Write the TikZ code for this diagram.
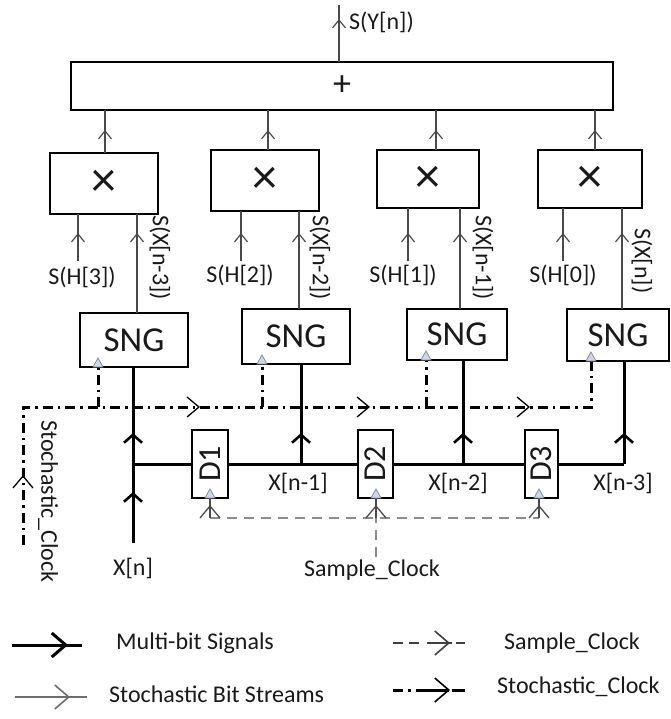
\documentclass[tikz,border=0pt]{standalone}
\usepackage{fontspec}
\setmainfont{Carlito}
\usetikzlibrary{arrows.meta,decorations.markings}

\definecolor{wire}{HTML}{4A4A4A}
\definecolor{clkgray}{HTML}{8C8C8C}
\definecolor{clkfill}{HTML}{C9DAF0}

\tikzset{
  box/.style={draw=black, line width=1.3pt, inner sep=0pt, outer sep=0pt},
  lbl/.style={font=\fontsize{24}{26}\selectfont, inner sep=0pt, text=black!90},
  bitline/.style={draw=wire, line width=1.2pt},
  busline/.style={draw=black, line width=3pt},
  sclk/.style={draw=clkgray, line width=1.8pt, dash pattern=on 10pt off 7pt},
  stclk/.style={draw=black, line width=3pt, dash pattern=on 10pt off 5pt on 2.5pt off 5pt},
  sbarb/.tip={Straight Barb[length=8pt,width=13pt,line width=1.2pt]},
  bbarb/.tip={Straight Barb[length=8pt,width=18pt,line width=2.6pt]},
  cbarb/.tip={Straight Barb[length=12pt,width=20pt,line width=1.3pt]},
  lbarb/.tip={Straight Barb[length=14pt,width=24pt,line width=1.6pt]},
  lbbarb/.tip={Straight Barb[length=14pt,width=24pt,line width=3pt]},
  midbarb/.style 2 args={postaction={decorate, decoration={markings,
      mark=at position #1 with {\arrow{#2}}}}},
  clock/.pic={\draw[clkgray, fill=clkfill, line width=0.8pt]
      (-5,0) -- (5,0) -- (0,-9) -- cycle;},
}

\begin{document}
\begin{tikzpicture}[x=1pt, y=-1pt]
\useasboundingbox (0,0) rectangle (670,719);

% adder
\node[box, minimum width=542pt, minimum height=48pt, lbl, font=\fontsize{36}{36}\selectfont] (add) at (342,86) {+};
\coordinate (yout) at (339,5);
\draw[bitline, midbarb={43pt}{sbarb}] (add.north -| yout) -- (yout);
\node[lbl, anchor=west] (ylab) at (349,22) {S(Y[n])};

% multipliers
\tikzset{mul/.style={box, lbl, font=\fontsize{50}{50}\selectfont}}
\node[mul, minimum width=108pt, minimum height=61pt] (m1) at (104,183.5) {\texttimes};
\node[mul, minimum width=108pt, minimum height=61pt] (m2) at (265,180.5) {\texttimes};
\node[mul, minimum width=102pt, minimum height=58pt] (m3) at (428,179) {\texttimes};
\node[mul, minimum width=104pt, minimum height=58pt] (m4) at (590,179) {\texttimes};

% products into the adder
\foreach \m/\x in {m1/105, m2/268, m3/436, m4/595}{
  \coordinate (p\m) at (\x,0);
  \draw[bitline, midbarb={-20pt}{sbarb}] (\m.north -| p\m) -- (add.south -| p\m);
}

% coefficient inputs
\foreach \m/\x in {m1/78, m2/241, m3/408, m4/563}{
  \coordinate (h\m) at (\x,261);
  \draw[bitline, midbarb={28pt}{sbarb}] (h\m) -- (\m.south -| h\m);
}
\node[lbl] (h3) at (82,277) {S(H[3])};
\node[lbl] (h2) at (240,275) {S(H[2])};
\node[lbl] (h1) at (403,275) {S(H[1])};
\node[lbl] (h0) at (563,275) {S(H[0])};

% SNG blocks
\tikzset{sng/.style={box, lbl, font=\fontsize{35}{36}\selectfont}}
\node[sng, minimum width=108pt, minimum height=54pt] (s1) at (134,340) {SNG};
\node[sng, minimum width=108pt, minimum height=55pt] (s2) at (296,336.5) {SNG};
\node[sng, minimum width=100pt, minimum height=51pt] (s3) at (457,334.5) {SNG};
\node[sng, minimum width=102pt, minimum height=52pt] (s4) at (618,335) {SNG};

% stochastic streams from SNGs to multipliers
\foreach \s/\m/\x/\d in {s1/m1/137/80, s2/m2/299/76, s3/m3/460/76, s4/m4/622/76}{
  \coordinate (x\s) at (\x,0);
  \draw[bitline, midbarb={\d pt}{sbarb}] (\s.north -| x\s) -- (\m.south -| x\s);
}
\node[lbl, rotate=-90, anchor=west] (sx3) at (160,215) {S(X[n-3])};
\node[lbl, rotate=-90, anchor=west] (sx2) at (320,215) {S(X[n-2])};
\node[lbl, rotate=-90, anchor=west] (sx1) at (483,215) {S(X[n-1])};
\node[lbl, rotate=-90, anchor=west] (sx0) at (642,228) {S(X[n])};

% delay line
\tikzset{dly/.style={box, lbl, font=\fontsize{32}{32}\selectfont, minimum height=68pt}}
\node[dly, minimum width=36pt] (d1) at (210,464) {\rotatebox{90}{D1}};
\node[dly, minimum width=35pt] (d2) at (375.5,464) {\rotatebox{90}{D2}};
\node[dly, minimum width=33pt] (d3) at (541.5,464) {\rotatebox{90}{D3}};

\coordinate (xin) at (133,543);
\coordinate (j0) at (133,464);
\coordinate (j1) at (301,464);
\coordinate (j2) at (463,464);
\coordinate (j3) at (624,464);
\draw[busline, midbarb={51pt}{bbarb}, midbarb={110pt}{bbarb}] (xin) -- (s1.south -| xin);
\draw[busline] (j0) -- (d1.west |- j0);
\draw[busline] (d1.east |- j1) -- (d2.west |- j1);
\draw[busline] (d2.east |- j2) -- (d3.west |- j2);
\draw[busline] (d3.east |- j3) -- (j3);
\draw[busline, midbarb={31pt}{bbarb}] (j1) -- (s2.south -| j1);
\draw[busline, midbarb={31pt}{bbarb}] (j2) -- (s3.south -| j2);
\draw[busline, midbarb={31pt}{bbarb}] (j3) -- (s4.south -| j3);

\node[lbl] (xn) at (133,568) {X[n]};
\node[lbl] (xn1) at (298,483) {X[n-1]};
\node[lbl] (xn2) at (458,483) {X[n-2]};
\node[lbl] (xn3) at (623,483) {X[n-3]};

% stochastic clock distribution
\coordinate (sc0) at (23,545);
\coordinate (sc1) at (23,407);
\coordinate (sc2) at (591,407);
\draw[stclk, midbarb={70pt}{cbarb}, midbarb={315pt}{cbarb},
      midbarb={485pt}{cbarb}, midbarb={645pt}{cbarb}]
  (sc0) -- (sc1) -- (sc2) -- (s4.south -| sc2);
\foreach \s/\x in {s1/98, s2/262, s3/426}{
  \coordinate (c\s) at (\x,407);
  \draw[stclk] (c\s) -- (\s.south -| c\s);
}
\node[lbl, rotate=-90, anchor=west] (sclab) at (48,420) {Stochastic\_Clock};

% sample clock distribution
\coordinate (smp) at (376,557);
\coordinate (sa) at (210,518);
\coordinate (sb) at (539,518);
\draw[sclk] (smp) -- (smp |- sa);
\draw[sclk] (sa) -- (sb);
\foreach \d/\x in {d1/210, d2/376, d3/539}{
  \coordinate (k\d) at (\x,518);
  \draw[draw=wire, line width=1.2pt, midbarb={13pt}{cbarb}] (k\d) -- (\d.south -| k\d);
}
\node[lbl] (smplab) at (372,570) {Sample\_Clock};

% clock inputs
\foreach \s/\x in {s1/98, s2/262, s3/426, s4/591}{
  \path (\s.south -| \x,0) pic {clock};
}
\foreach \d/\x in {d1/210, d2/376, d3/539}{
  \path (\d.south -| \x,0) pic {clock};
}

% legend
\coordinate (la0) at (12,645);  \coordinate (la1) at (82,645);
\coordinate (lb0) at (15,697);  \coordinate (lb1) at (87,697);
\coordinate (lc0) at (393,643); \coordinate (lc1) at (465,643);
\coordinate (ld0) at (393,690); \coordinate (ld1) at (465,690);
\draw[busline, midbarb={-14pt}{lbbarb}] (la0) -- (la1);
\draw[bitline, draw=wire!80, line width=1.6pt, midbarb={-17pt}{lbarb}] (lb0) -- (lb1);
\draw[sclk, draw=black!75, line width=1.5pt,
      dash pattern=on 10pt off 6pt on 10pt off 8pt on 25pt off 4pt on 20pt,
      midbarb={-15pt}{lbarb}] (lc0) -- (lc1);
\draw[stclk, dash pattern=on 10pt off 5pt on 2.5pt off 5pt on 33pt off 3pt on 20pt,
      midbarb={-15pt}{lbarb}] (ld0) -- (ld1);
\node[lbl, anchor=west] (lga) at (116,643) {Multi-bit Signals};
\node[lbl, anchor=west] (lgb) at (109,694) {Stochastic Bit Streams};
\node[lbl, anchor=west] (lgc) at (504,643) {Sample\_Clock};
\node[lbl, anchor=west] (lgd) at (497,687) {Stochastic\_Clock};
\end{tikzpicture}
\end{document}
